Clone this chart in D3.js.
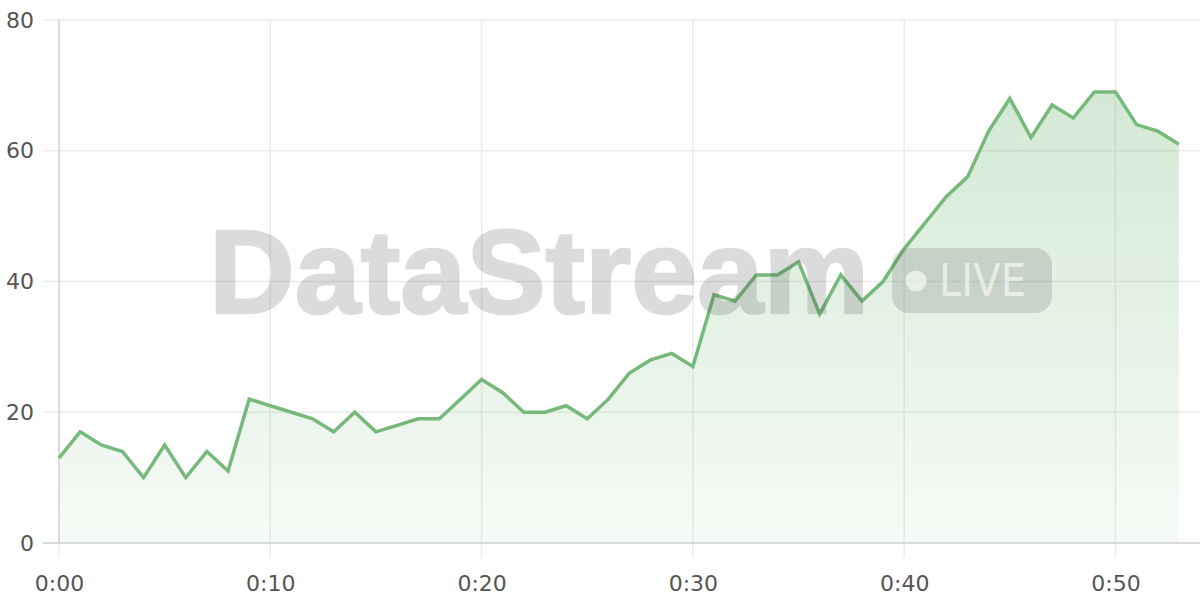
<!DOCTYPE html>
<html>
<head>
<meta charset="utf-8">
<script src="https://cdn.jsdelivr.net/npm/d3@7"></script>
<style>
  html, body { margin: 0; padding: 0; background: #fff; }
  svg { display: block; }
</style>
</head>
<body>
<div id="chart"></div>
<script>
'use strict';

// minutes since start, one reading per minute
var minutes = d3.range(0, 54);
var values = [13, 17, 15, 14, 10, 15, 10, 14, 11, 22,
              21, 20, 19, 17, 20, 17, 18, 19, 19, 22,
              25, 23, 20, 20, 21, 19, 22, 26, 28, 29,
              27, 38, 37, 41, 41, 43, 35, 41, 37, 40,
              45, 49, 53, 56, 63, 68, 62, 67, 65, 69,
              69, 64, 63, 61];
var xTicks = [0, 10, 20, 30, 40, 50];
var yTicks = [0, 20, 40, 60, 80];

var width = 1200, height = 600;
var margin = {top: 20, right: 0, bottom: 57, left: 59};

var svg = d3.select('#chart').append('svg')
    .attr('width', width)
    .attr('height', height);

var x = d3.scaleLinear().domain([0, 54]).range([margin.left, width - margin.right]);
var y = d3.scaleLinear().domain([0, 80]).range([height - margin.bottom, margin.top]);

var data = minutes.map(function(m, i) { return {m: m, v: values[i]}; });

// gradient under the line
var defs = svg.append('defs');
var grad = defs.append('linearGradient')
    .attr('id', 'fillGrad')
    .attr('x1', 0).attr('y1', 0).attr('x2', 0).attr('y2', 1);
grad.append('stop').attr('offset', '0%').attr('stop-color', '#74b979').attr('stop-opacity', 0.32);
grad.append('stop').attr('offset', '100%').attr('stop-color', '#74b979').attr('stop-opacity', 0.06);

// grid
var grid = svg.append('g').attr('class', 'grid');
grid.selectAll('line.h').data(yTicks).enter().append('line')
    .attr('x1', margin.left - 16).attr('x2', width)
    .attr('y1', function(d) { return y(d); })
    .attr('y2', function(d) { return y(d); })
    .attr('stroke', '#ebebeb').attr('stroke-width', 1.5);
grid.selectAll('line.v').data(xTicks).enter().append('line')
    .attr('x1', function(d) { return x(d); })
    .attr('x2', function(d) { return x(d); })
    .attr('y1', margin.top).attr('y2', height - margin.bottom + 15)
    .attr('stroke', '#ebebeb').attr('stroke-width', 1.5);

// area + line
var area = d3.area()
    .x(function(d) { return x(d.m); })
    .y0(y(0))
    .y1(function(d) { return y(d.v); });
var line = d3.line()
    .x(function(d) { return x(d.m); })
    .y(function(d) { return y(d.v); });

svg.append('path').datum(data)
    .attr('d', area)
    .attr('fill', 'url(#fillGrad)');

// axis lines
svg.append('line')
    .attr('x1', x(0)).attr('x2', x(0))
    .attr('y1', margin.top).attr('y2', y(0))
    .attr('stroke', '#d4d4d4').attr('stroke-width', 1.5);
svg.append('line')
    .attr('x1', margin.left - 16).attr('x2', width)
    .attr('y1', y(0)).attr('y2', y(0))
    .attr('stroke', '#d4d4d4').attr('stroke-width', 1.5);

svg.append('path').datum(data)
    .attr('d', line)
    .attr('fill', 'none')
    .attr('stroke', '#76b97a')
    .attr('stroke-width', 3.5)
    .attr('stroke-linejoin', 'miter');

// axis labels
var xAxis = d3.axisBottom(x)
    .tickValues(xTicks)
    .tickSize(0)
    .tickPadding(32)
    .tickFormat(function(d) { return '0:' + d3.format('02d')(d); });
var gx = svg.append('g')
    .attr('transform', 'translate(0,' + y(0) + ')')
    .call(xAxis);

var yAxis = d3.axisLeft(y)
    .tickValues(yTicks)
    .tickSize(0)
    .tickPadding(25);
var gy = svg.append('g')
    .attr('transform', 'translate(' + margin.left + ',0)')
    .call(yAxis);

[gx, gy].forEach(function(g) {
    g.select('.domain').remove();
    g.selectAll('text')
        .attr('fill', '#555')
        .style('font-family', '"DejaVu Sans", sans-serif')
        .style('font-size', '22px');
});

// watermark
var wm = svg.append('g').attr('class', 'watermark').style('pointer-events', 'none');
wm.append('text')
    .attr('x', 209).attr('y', 313)
    .attr('textLength', 660)
    .attr('lengthAdjust', 'spacingAndGlyphs')
    .style('font-family', '"Liberation Sans", Arial, sans-serif')
    .style('font-weight', 'bold')
    .style('font-size', '118px')
    .attr('fill', '#444')
    .attr('stroke', '#444')
    .attr('stroke-width', 2.5)
    .attr('stroke-linejoin', 'round')
    .attr('opacity', 0.19)
    .text('DataStream');
wm.append('rect')
    .attr('x', 892).attr('y', 248)
    .attr('width', 160).attr('height', 65)
    .attr('rx', 17).attr('ry', 17)
    .attr('fill', '#505050')
    .attr('fill-opacity', 0.18);
wm.append('circle')
    .attr('cx', 916).attr('cy', 281).attr('r', 10.5)
    .attr('fill', '#fff').attr('fill-opacity', 0.6);
wm.append('text')
    .attr('x', 939).attr('y', 296)
    .attr('textLength', 87)
    .attr('lengthAdjust', 'spacingAndGlyphs')
    .style('font-family', '"DejaVu Sans", sans-serif')
    .style('font-size', '45px')
    .attr('fill', '#fff')
    .attr('fill-opacity', 0.6)
    .text('LIVE');
</script>
</body>
</html>
